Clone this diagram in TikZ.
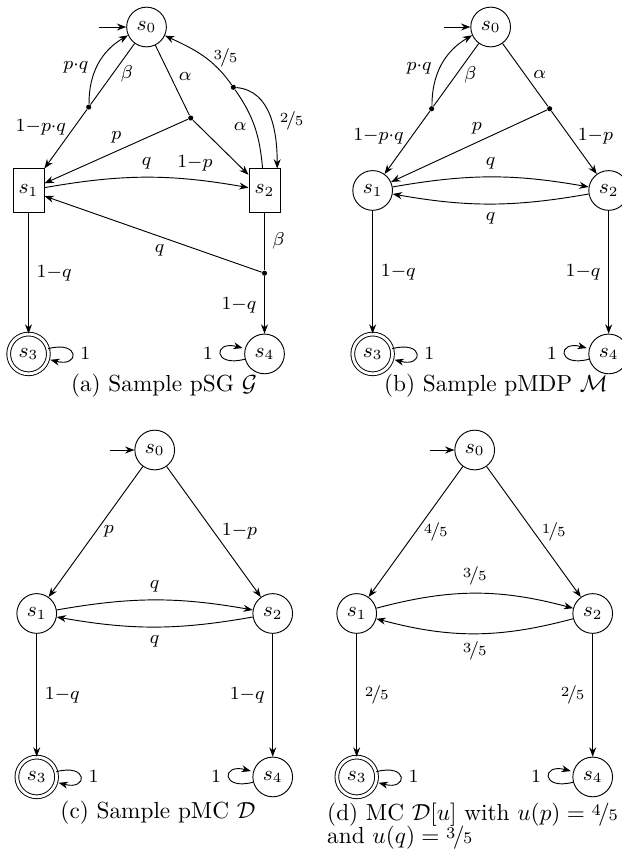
\documentclass[tikz,border=0pt]{standalone}
\usepackage{amsmath}
\usepackage{amssymb}
\usepackage{nicefrac}
\usetikzlibrary{arrows.meta, positioning, calc}

\begin{document}
\begin{tikzpicture}[
  >={Stealth[length=4pt]}, font=\footnotesize,
  node distance=2.47cm and 1.783cm, on grid,
  state/.style   = {draw, circle, minimum size=0.6cm, inner sep=0pt, font=\small},
  box/.style     = {draw, rectangle, minimum width=0.47cm, minimum height=0.65cm, inner sep=0pt, font=\small},
  accept/.style  = {state, double, double distance=1.2pt},
  dot/.style     = {circle, fill, inner sep=0pt, minimum size=2.2pt},
  subcap/.style  = {font=\normalsize},
]
  \useasboundingbox (0,0) rectangle (9.398,-12.859);

  % (a) pSG
  \node[state]                      (a0) at (2.214,-0.408) {$s_0$};
  \node[box,    below left=of a0]   (a1) {$s_1$};
  \node[box,    below right=of a0]  (a2) {$s_2$};
  \node[accept, below=of a1]        (a3) {$s_3$};
  \node[state,  below=of a2]        (a4) {$s_4$};
  \coordinate[left=0.72cm of a0]    (a0in);

  \node[dot] (ab) at ($(a0)!0.49!(a1)$)        {};
  \node[dot] (aa) at ($(a0)+(0.668,-1.375)$)   {};
  \node[dot] (ac) at ($(a0)+(1.312,-0.911)$)   {};
  \node[dot] (ad) at ($(a2)+(0,-1.25)$)        {};

  \draw[->] (a0in) -- (a0);
  \draw     (a0) -- node[right, pos=0.5] {$\beta$} (ab);
  \draw[->] (ab) -- node[left, pos=0.3] {$1{-}p{\cdot}q$} (a1);
  \draw[->] (ab) to[bend left=30] node[left, pos=0.45] {$p{\cdot}q$} (a0);
  \draw     (a0) -- node[right, pos=0.45] {$\alpha$} (aa);
  \draw[->] (aa) -- node[above, pos=0.5] {$p$} (a1);
  \draw[->] (aa) -- node[below left, pos=0.5] {$1{-}p$} (a2);
  \draw     (a2) to[out=95, in=-55] node[left] {$\alpha$} (ac);
  \draw[->] (ac) to[out=125, in=-25] node[right, pos=0.45] {$\nicefrac{3}{5}$} (a0);
  \draw[->] (ac) to[out=-5, in=90] node[right, pos=0.55] {$\nicefrac{2}{5}$} (a2.60);
  \draw[->] (a1) to[bend left=10] node[above] {$q$} (a2);
  \draw     (a2) -- node[right] {$\beta$} (ad);
  \draw[->] (ad) -- node[below, pos=0.47] {$q$} (a1);
  \draw[->] (ad) -- node[left] {$1{-}q$} (a4);
  \draw[->] (a1) -- node[right] {$1{-}q$} (a3);
  \draw[->] (a3) edge[loop right] node[right] {$1$} ();
  \draw[->] (a4) edge[loop left]  node[left]  {$1$} ();

  \node[subcap] (acap) at (2.478,-5.83) {(a) Sample pSG $\mathcal{G}$};

  % (b) pMDP
  \node[state]                      (b0) at (7.414,-0.408) {$s_0$};
  \node[state,  below left=of b0]   (b1) {$s_1$};
  \node[state,  below right=of b0]  (b2) {$s_2$};
  \node[accept, below=of b1]        (b3) {$s_3$};
  \node[state,  below=of b2]        (b4) {$s_4$};
  \coordinate[left=0.7cm of b0]     (b0in);

  \node[dot] (bb) at ($(b0)!0.5!(b1)$) {};
  \node[dot] (ba) at ($(b0)!0.5!(b2)$) {};

  \draw[->] (b0in) -- (b0);
  \draw     (b0) -- node[right] {$\beta$} (bb);
  \draw[->] (bb) -- node[left, pos=0.4] {$1{-}p{\cdot}q$} (b1);
  \draw[->] (bb) to[bend left=30] node[left, pos=0.45] {$p{\cdot}q$} (b0);
  \draw     (b0) -- node[right] {$\alpha$} (ba);
  \draw[->] (ba) -- node[right, pos=0.4] {$1{-}p$} (b2);
  \draw[->] (ba) -- node[above, pos=0.45] {$p$} (b1);
  \draw[->] (b1) to[bend left=10] node[above] {$q$} (b2);
  \draw[->] (b2) to[bend left=10] node[below] {$q$} (b1);
  \draw[->] (b1) -- node[right] {$1{-}q$} (b3);
  \draw[->] (b2) -- node[left]  {$1{-}q$} (b4);
  \draw[->] (b3) edge[loop right] node[right] {$1$} ();
  \draw[->] (b4) edge[loop left]  node[left]  {$1$} ();

  \node[subcap] (bcap) at (7.495,-5.83) {(b) Sample pMDP $\mathcal{M}$};

  % (c) pMC
  \node[state]                      (c0) at (2.338,-6.8) {$s_0$};
  \node[state,  below left=of c0]   (c1) {$s_1$};
  \node[state,  below right=of c0]  (c2) {$s_2$};
  \node[accept, below=of c1]        (c3) {$s_3$};
  \node[state,  below=of c2]        (c4) {$s_4$};
  \coordinate[left=0.68cm of c0]    (c0in);

  \draw[->] (c0in) -- (c0);
  \draw[->] (c0) -- node[right] {$p$} (c1);
  \draw[->] (c0) -- node[right] {$1{-}p$} (c2);
  \draw[->] (c1) to[bend left=10] node[above] {$q$} (c2);
  \draw[->] (c2) to[bend left=10] node[below] {$q$} (c1);
  \draw[->] (c1) -- node[right] {$1{-}q$} (c3);
  \draw[->] (c2) -- node[left]  {$1{-}q$} (c4);
  \draw[->] (c3) edge[loop right] node[right] {$1$} ();
  \draw[->] (c4) edge[loop left]  node[left]  {$1$} ();

  \node[subcap] (ccap) at (2.387,-12.285) {(c) Sample pMC $\mathcal{D}$};

  % (d) MC D[u]
  \node[state]                      (d0) at (7.173,-6.8) {$s_0$};
  \node[state,  below left=of d0]   (d1) {$s_1$};
  \node[state,  below right=of d0]  (d2) {$s_2$};
  \node[accept, below=of d1]        (d3) {$s_3$};
  \node[state,  below=of d2]        (d4) {$s_4$};
  \coordinate[left=0.68cm of d0]    (d0in);

  \draw[->] (d0in) -- (d0);
  \draw[->] (d0) -- node[right] {$\nicefrac{4}{5}$} (d1);
  \draw[->] (d0) -- node[right] {$\nicefrac{1}{5}$} (d2);
  \draw[->] (d1) to[bend left=15] node[above] {$\nicefrac{3}{5}$} (d2);
  \draw[->] (d2) to[bend left=15] node[below] {$\nicefrac{3}{5}$} (d1);
  \draw[->] (d1) -- node[right] {$\nicefrac{2}{5}$} (d3);
  \draw[->] (d2) -- node[left]  {$\nicefrac{2}{5}$} (d4);
  \draw[->] (d3) edge[loop right] node[right] {$1$} ();
  \draw[->] (d4) edge[loop left]  node[left]  {$1$} ();

  \node[subcap, align=left, anchor=west] (dcap) at (4.82,-12.48)
    {(d) MC $\mathcal{D}[u]$ with $u(p)=\nicefrac{4}{5}$\\[-2pt] and $u(q)=\nicefrac{3}{5}$};
\end{tikzpicture}
\end{document}
